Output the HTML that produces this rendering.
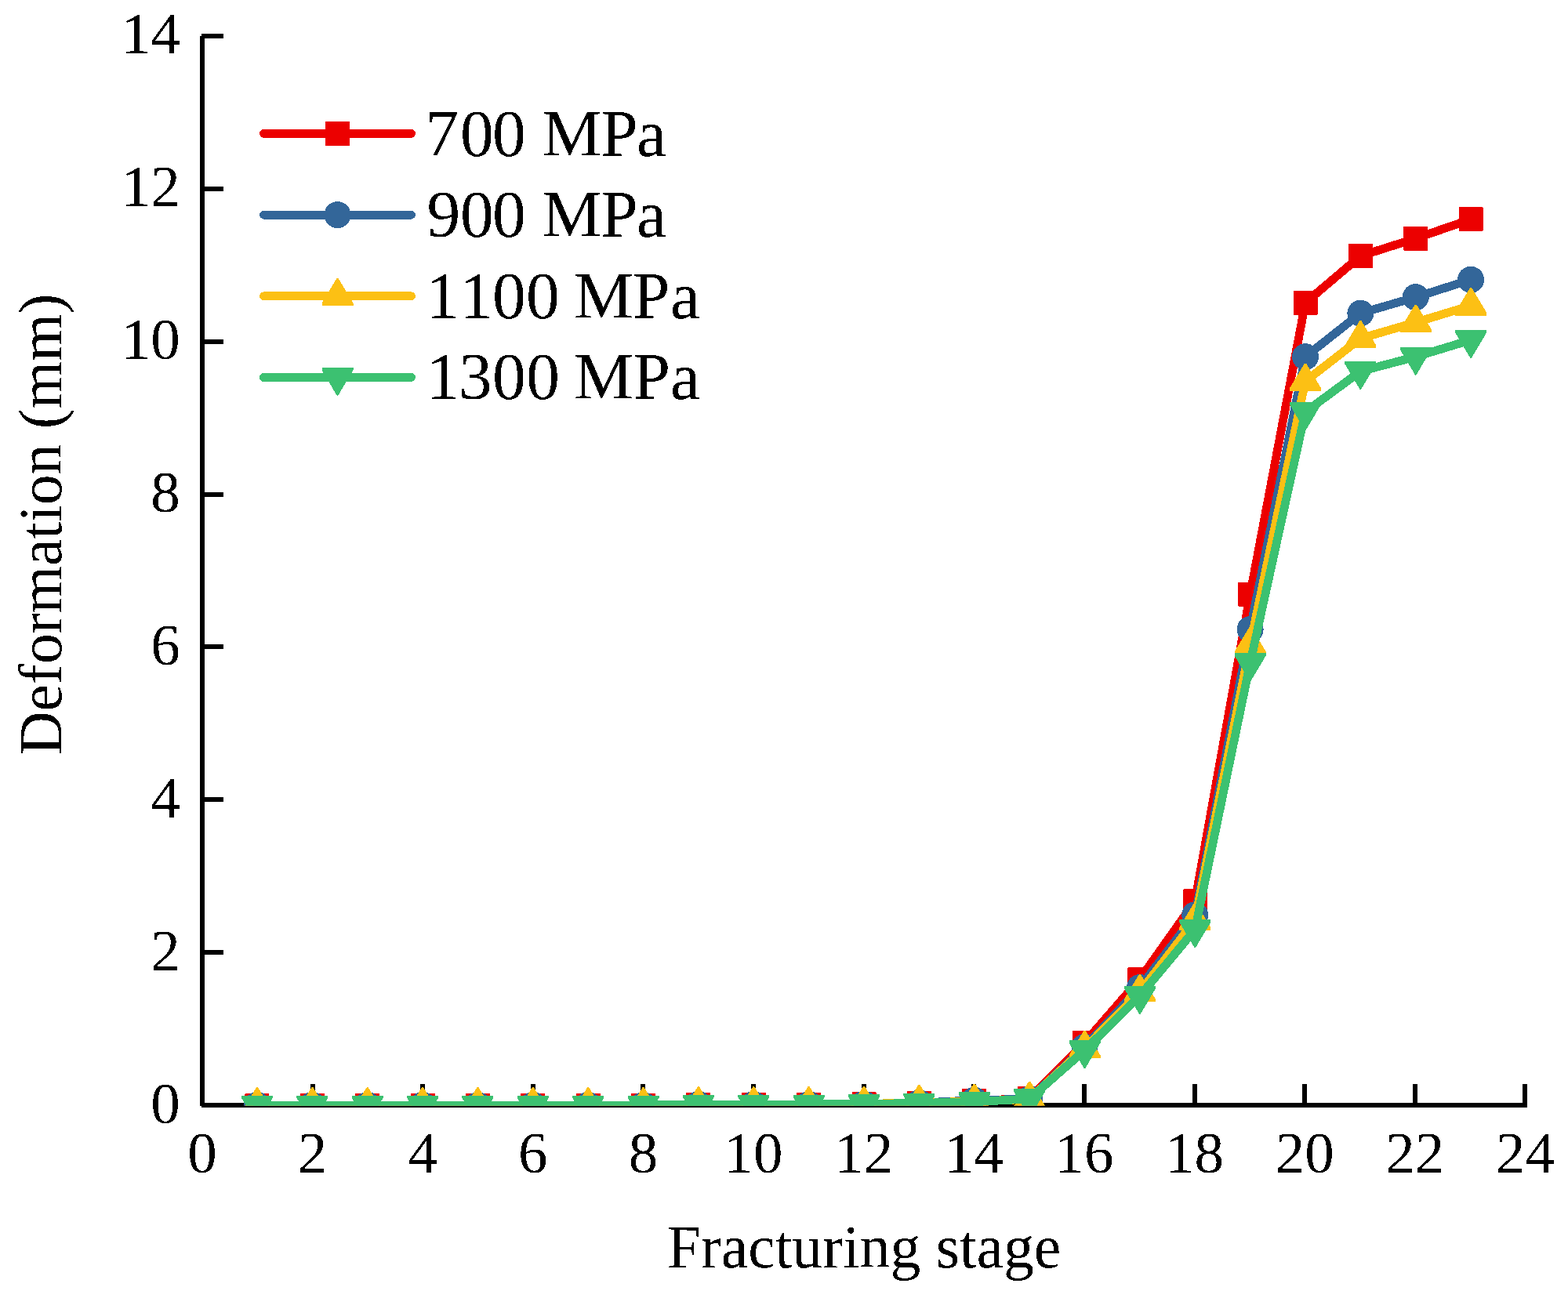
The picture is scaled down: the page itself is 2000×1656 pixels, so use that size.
<!DOCTYPE html>
<html><head><meta charset="utf-8"><title>Deformation vs Fracturing stage</title>
<style>
html,body{margin:0;padding:0;background:#fff;}
svg{display:block;}
.ce line,.ce polyline,.ce polygon,.ce rect,.ce circle{shape-rendering:crispEdges;}
text{filter:url(#bin);font-family:"Liberation Serif","Times New Roman",serif;fill:#000;}
.tk{font-size:75px;}
.lg{font-size:85.5px;}
.ti{font-size:77.7px;}
</style></head><body>
<svg class="ce" width="2000" height="1656" viewBox="0 0 2000 1656">
<defs><filter id="bin" x="-5%" y="-5%" width="110%" height="110%" color-interpolation-filters="sRGB"><feComponentTransfer><feFuncA type="discrete" tableValues="0 1"/></feComponentTransfer></filter><clipPath id="pa"><rect x="0" y="0" width="2000" height="1410.75"/></clipPath></defs>
<rect width="2000" height="1656" fill="#fff"/>
<rect x="255" y="46" width="6" height="1365" fill="#000"/>
<rect x="257" y="1407" width="1691" height="6" fill="#000"/>
<line x1="257" y1="1410.00" x2="285" y2="1410.00" stroke="#000" stroke-width="6"/>
<text x="229.8" y="1432.50" text-anchor="end" class="tk">0</text>
<line x1="257" y1="1215.14" x2="285" y2="1215.14" stroke="#000" stroke-width="6"/>
<text x="229.8" y="1237.64" text-anchor="end" class="tk">2</text>
<line x1="257" y1="1020.28" x2="285" y2="1020.28" stroke="#000" stroke-width="6"/>
<text x="229.8" y="1042.78" text-anchor="end" class="tk">4</text>
<line x1="257" y1="825.42" x2="285" y2="825.42" stroke="#000" stroke-width="6"/>
<text x="229.8" y="847.92" text-anchor="end" class="tk">6</text>
<line x1="257" y1="630.56" x2="285" y2="630.56" stroke="#000" stroke-width="6"/>
<text x="229.8" y="653.06" text-anchor="end" class="tk">8</text>
<line x1="257" y1="435.70" x2="285" y2="435.70" stroke="#000" stroke-width="6"/>
<text x="229.8" y="458.20" text-anchor="end" class="tk">10</text>
<line x1="257" y1="240.84" x2="285" y2="240.84" stroke="#000" stroke-width="6"/>
<text x="229.8" y="263.34" text-anchor="end" class="tk">12</text>
<line x1="257" y1="45.98" x2="285" y2="45.98" stroke="#000" stroke-width="6"/>
<text x="229.8" y="68.48" text-anchor="end" class="tk">14</text>
<line x1="258.00" y1="1383" x2="258.00" y2="1410.0" stroke="#000" stroke-width="6"/>
<text x="258.00" y="1495.7" text-anchor="middle" class="tk">0</text>
<line x1="398.62" y1="1383" x2="398.62" y2="1410.0" stroke="#000" stroke-width="6"/>
<text x="398.62" y="1495.7" text-anchor="middle" class="tk">2</text>
<line x1="539.24" y1="1383" x2="539.24" y2="1410.0" stroke="#000" stroke-width="6"/>
<text x="539.24" y="1495.7" text-anchor="middle" class="tk">4</text>
<line x1="679.86" y1="1383" x2="679.86" y2="1410.0" stroke="#000" stroke-width="6"/>
<text x="679.86" y="1495.7" text-anchor="middle" class="tk">6</text>
<line x1="820.48" y1="1383" x2="820.48" y2="1410.0" stroke="#000" stroke-width="6"/>
<text x="820.48" y="1495.7" text-anchor="middle" class="tk">8</text>
<line x1="961.10" y1="1383" x2="961.10" y2="1410.0" stroke="#000" stroke-width="6"/>
<text x="961.10" y="1495.7" text-anchor="middle" class="tk">10</text>
<line x1="1101.72" y1="1383" x2="1101.72" y2="1410.0" stroke="#000" stroke-width="6"/>
<text x="1101.72" y="1495.7" text-anchor="middle" class="tk">12</text>
<line x1="1242.34" y1="1383" x2="1242.34" y2="1410.0" stroke="#000" stroke-width="6"/>
<text x="1242.34" y="1495.7" text-anchor="middle" class="tk">14</text>
<line x1="1382.96" y1="1383" x2="1382.96" y2="1410.0" stroke="#000" stroke-width="6"/>
<text x="1382.96" y="1495.7" text-anchor="middle" class="tk">16</text>
<line x1="1523.58" y1="1383" x2="1523.58" y2="1410.0" stroke="#000" stroke-width="6"/>
<text x="1523.58" y="1495.7" text-anchor="middle" class="tk">18</text>
<line x1="1664.20" y1="1383" x2="1664.20" y2="1410.0" stroke="#000" stroke-width="6"/>
<text x="1664.20" y="1495.7" text-anchor="middle" class="tk">20</text>
<line x1="1804.82" y1="1383" x2="1804.82" y2="1410.0" stroke="#000" stroke-width="6"/>
<text x="1804.82" y="1495.7" text-anchor="middle" class="tk">22</text>
<line x1="1945.44" y1="1383" x2="1945.44" y2="1410.0" stroke="#000" stroke-width="6"/>
<text x="1945.44" y="1495.7" text-anchor="middle" class="tk">24</text>
<g clip-path="url(#pa)">
<polyline points="327.97,1410.00 398.34,1410.00 468.71,1410.00 539.08,1410.00 609.45,1410.00 679.82,1410.00 750.19,1410.00 820.56,1410.00 890.93,1409.03 961.30,1409.03 1031.67,1409.03 1102.04,1408.54 1172.41,1407.37 1242.78,1404.25 1313.15,1401.52 1383.52,1330.11 1453.89,1249.24 1524.26,1149.86 1594.63,758.19 1665.00,386.30 1735.37,326.58 1805.74,304.17 1876.11,279.81" fill="none" stroke="#EC0000" stroke-width="10.8" stroke-linejoin="round" stroke-linecap="round"/>
<rect x="312.47" y="1394.50" width="31" height="31" rx="1.2" fill="#EC0000"/>
<rect x="382.84" y="1394.50" width="31" height="31" rx="1.2" fill="#EC0000"/>
<rect x="453.21" y="1394.50" width="31" height="31" rx="1.2" fill="#EC0000"/>
<rect x="523.58" y="1394.50" width="31" height="31" rx="1.2" fill="#EC0000"/>
<rect x="593.95" y="1394.50" width="31" height="31" rx="1.2" fill="#EC0000"/>
<rect x="664.32" y="1394.50" width="31" height="31" rx="1.2" fill="#EC0000"/>
<rect x="734.69" y="1394.50" width="31" height="31" rx="1.2" fill="#EC0000"/>
<rect x="805.06" y="1394.50" width="31" height="31" rx="1.2" fill="#EC0000"/>
<rect x="875.43" y="1393.53" width="31" height="31" rx="1.2" fill="#EC0000"/>
<rect x="945.80" y="1393.53" width="31" height="31" rx="1.2" fill="#EC0000"/>
<rect x="1016.17" y="1393.53" width="31" height="31" rx="1.2" fill="#EC0000"/>
<rect x="1086.54" y="1393.04" width="31" height="31" rx="1.2" fill="#EC0000"/>
<rect x="1156.91" y="1391.87" width="31" height="31" rx="1.2" fill="#EC0000"/>
<rect x="1227.28" y="1388.75" width="31" height="31" rx="1.2" fill="#EC0000"/>
<rect x="1297.65" y="1386.02" width="31" height="31" rx="1.2" fill="#EC0000"/>
<rect x="1368.02" y="1314.61" width="31" height="31" rx="1.2" fill="#EC0000"/>
<rect x="1438.39" y="1233.74" width="31" height="31" rx="1.2" fill="#EC0000"/>
<rect x="1508.76" y="1134.36" width="31" height="31" rx="1.2" fill="#EC0000"/>
<rect x="1579.13" y="742.69" width="31" height="31" rx="1.2" fill="#EC0000"/>
<rect x="1649.50" y="370.80" width="31" height="31" rx="1.2" fill="#EC0000"/>
<rect x="1719.87" y="311.08" width="31" height="31" rx="1.2" fill="#EC0000"/>
<rect x="1790.24" y="288.67" width="31" height="31" rx="1.2" fill="#EC0000"/>
<rect x="1860.61" y="264.31" width="31" height="31" rx="1.2" fill="#EC0000"/>
<polyline points="327.97,1410.00 398.34,1410.00 468.71,1410.00 539.08,1410.00 609.45,1410.00 679.82,1410.00 750.19,1410.00 820.56,1410.00 890.93,1409.03 961.30,1409.03 1031.67,1409.03 1102.04,1408.54 1172.41,1407.08 1242.78,1403.76 1313.15,1402.21 1383.52,1335.95 1453.89,1259.96 1524.26,1167.40 1594.63,803.01 1665.00,455.19 1735.37,399.65 1805.74,379.19 1876.11,356.78" fill="none" stroke="#336699" stroke-width="10.8" stroke-linejoin="round" stroke-linecap="round"/>
<circle cx="327.97" cy="1410.00" r="17.0" fill="#336699"/>
<circle cx="398.34" cy="1410.00" r="17.0" fill="#336699"/>
<circle cx="468.71" cy="1410.00" r="17.0" fill="#336699"/>
<circle cx="539.08" cy="1410.00" r="17.0" fill="#336699"/>
<circle cx="609.45" cy="1410.00" r="17.0" fill="#336699"/>
<circle cx="679.82" cy="1410.00" r="17.0" fill="#336699"/>
<circle cx="750.19" cy="1410.00" r="17.0" fill="#336699"/>
<circle cx="820.56" cy="1410.00" r="17.0" fill="#336699"/>
<circle cx="890.93" cy="1409.03" r="17.0" fill="#336699"/>
<circle cx="961.30" cy="1409.03" r="17.0" fill="#336699"/>
<circle cx="1031.67" cy="1409.03" r="17.0" fill="#336699"/>
<circle cx="1102.04" cy="1408.54" r="17.0" fill="#336699"/>
<circle cx="1172.41" cy="1407.08" r="17.0" fill="#336699"/>
<circle cx="1242.78" cy="1403.76" r="17.0" fill="#336699"/>
<circle cx="1313.15" cy="1402.21" r="17.0" fill="#336699"/>
<circle cx="1383.52" cy="1335.95" r="17.0" fill="#336699"/>
<circle cx="1453.89" cy="1259.96" r="17.0" fill="#336699"/>
<circle cx="1524.26" cy="1167.40" r="17.0" fill="#336699"/>
<circle cx="1594.63" cy="803.01" r="17.0" fill="#336699"/>
<circle cx="1665.00" cy="455.19" r="17.0" fill="#336699"/>
<circle cx="1735.37" cy="399.65" r="17.0" fill="#336699"/>
<circle cx="1805.74" cy="379.19" r="17.0" fill="#336699"/>
<circle cx="1876.11" cy="356.78" r="17.0" fill="#336699"/>
<polyline points="327.97,1410.00 398.34,1410.00 468.71,1410.00 539.08,1410.00 609.45,1410.00 679.82,1410.00 750.19,1410.00 820.56,1410.00 890.93,1409.03 961.30,1409.03 1031.67,1409.03 1102.04,1408.54 1172.41,1406.69 1242.78,1405.32 1313.15,1402.30 1383.52,1337.41 1453.89,1265.80 1524.26,1174.22 1594.63,822.50 1665.00,486.36 1735.37,431.80 1805.74,411.34 1876.11,389.91" fill="none" stroke="#FCC014" stroke-width="10.8" stroke-linejoin="round" stroke-linecap="round"/>
<polygon points="326.97,1387.20 328.97,1387.20 347.97,1418.80 347.97,1422.60 307.97,1422.60 307.97,1418.80" fill="#FCC014"/>
<polygon points="397.34,1387.20 399.34,1387.20 418.34,1418.80 418.34,1422.60 378.34,1422.60 378.34,1418.80" fill="#FCC014"/>
<polygon points="467.71,1387.20 469.71,1387.20 488.71,1418.80 488.71,1422.60 448.71,1422.60 448.71,1418.80" fill="#FCC014"/>
<polygon points="538.08,1387.20 540.08,1387.20 559.08,1418.80 559.08,1422.60 519.08,1422.60 519.08,1418.80" fill="#FCC014"/>
<polygon points="608.45,1387.20 610.45,1387.20 629.45,1418.80 629.45,1422.60 589.45,1422.60 589.45,1418.80" fill="#FCC014"/>
<polygon points="678.82,1387.20 680.82,1387.20 699.82,1418.80 699.82,1422.60 659.82,1422.60 659.82,1418.80" fill="#FCC014"/>
<polygon points="749.19,1387.20 751.19,1387.20 770.19,1418.80 770.19,1422.60 730.19,1422.60 730.19,1418.80" fill="#FCC014"/>
<polygon points="819.56,1387.20 821.56,1387.20 840.56,1418.80 840.56,1422.60 800.56,1422.60 800.56,1418.80" fill="#FCC014"/>
<polygon points="889.93,1386.23 891.93,1386.23 910.93,1417.83 910.93,1421.63 870.93,1421.63 870.93,1417.83" fill="#FCC014"/>
<polygon points="960.30,1386.23 962.30,1386.23 981.30,1417.83 981.30,1421.63 941.30,1421.63 941.30,1417.83" fill="#FCC014"/>
<polygon points="1030.67,1386.23 1032.67,1386.23 1051.67,1417.83 1051.67,1421.63 1011.67,1421.63 1011.67,1417.83" fill="#FCC014"/>
<polygon points="1101.04,1385.74 1103.04,1385.74 1122.04,1417.34 1122.04,1421.14 1082.04,1421.14 1082.04,1417.34" fill="#FCC014"/>
<polygon points="1171.41,1383.89 1173.41,1383.89 1192.41,1415.49 1192.41,1419.29 1152.41,1419.29 1152.41,1415.49" fill="#FCC014"/>
<polygon points="1241.78,1382.52 1243.78,1382.52 1262.78,1414.12 1262.78,1417.92 1222.78,1417.92 1222.78,1414.12" fill="#FCC014"/>
<polygon points="1312.15,1379.50 1314.15,1379.50 1333.15,1411.10 1333.15,1414.90 1293.15,1414.90 1293.15,1411.10" fill="#FCC014"/>
<polygon points="1382.52,1314.61 1384.52,1314.61 1403.52,1346.21 1403.52,1350.01 1363.52,1350.01 1363.52,1346.21" fill="#FCC014"/>
<polygon points="1452.89,1243.00 1454.89,1243.00 1473.89,1274.60 1473.89,1278.40 1433.89,1278.40 1433.89,1274.60" fill="#FCC014"/>
<polygon points="1523.26,1151.42 1525.26,1151.42 1544.26,1183.02 1544.26,1186.82 1504.26,1186.82 1504.26,1183.02" fill="#FCC014"/>
<polygon points="1593.63,799.70 1595.63,799.70 1614.63,831.30 1614.63,835.10 1574.63,835.10 1574.63,831.30" fill="#FCC014"/>
<polygon points="1664.00,463.56 1666.00,463.56 1685.00,495.16 1685.00,498.96 1645.00,498.96 1645.00,495.16" fill="#FCC014"/>
<polygon points="1734.37,409.00 1736.37,409.00 1755.37,440.60 1755.37,444.40 1715.37,444.40 1715.37,440.60" fill="#FCC014"/>
<polygon points="1804.74,388.54 1806.74,388.54 1825.74,420.14 1825.74,423.94 1785.74,423.94 1785.74,420.14" fill="#FCC014"/>
<polygon points="1875.11,367.11 1877.11,367.11 1896.11,398.71 1896.11,402.51 1856.11,402.51 1856.11,398.71" fill="#FCC014"/>
<polyline points="327.97,1410.00 398.34,1410.00 468.71,1410.00 539.08,1410.00 609.45,1410.00 679.82,1410.00 750.19,1410.00 820.56,1410.00 890.93,1409.03 961.30,1409.03 1031.67,1409.03 1102.04,1408.54 1172.41,1407.37 1242.78,1405.71 1313.15,1401.91 1383.52,1339.85 1453.89,1270.68 1524.26,1185.91 1594.63,845.88 1665.00,525.53 1735.37,473.70 1805.74,455.19 1876.11,433.75" fill="none" stroke="#3CC171" stroke-width="10.8" stroke-linejoin="round" stroke-linecap="round"/>
<polygon points="307.97,1397.50 347.97,1397.50 347.97,1400.70 328.57,1433.40 327.37,1433.40 307.97,1400.70" fill="#3CC171"/>
<polygon points="378.34,1397.50 418.34,1397.50 418.34,1400.70 398.94,1433.40 397.74,1433.40 378.34,1400.70" fill="#3CC171"/>
<polygon points="448.71,1397.50 488.71,1397.50 488.71,1400.70 469.31,1433.40 468.11,1433.40 448.71,1400.70" fill="#3CC171"/>
<polygon points="519.08,1397.50 559.08,1397.50 559.08,1400.70 539.68,1433.40 538.48,1433.40 519.08,1400.70" fill="#3CC171"/>
<polygon points="589.45,1397.50 629.45,1397.50 629.45,1400.70 610.05,1433.40 608.85,1433.40 589.45,1400.70" fill="#3CC171"/>
<polygon points="659.82,1397.50 699.82,1397.50 699.82,1400.70 680.42,1433.40 679.22,1433.40 659.82,1400.70" fill="#3CC171"/>
<polygon points="730.19,1397.50 770.19,1397.50 770.19,1400.70 750.79,1433.40 749.59,1433.40 730.19,1400.70" fill="#3CC171"/>
<polygon points="800.56,1397.50 840.56,1397.50 840.56,1400.70 821.16,1433.40 819.96,1433.40 800.56,1400.70" fill="#3CC171"/>
<polygon points="870.93,1396.53 910.93,1396.53 910.93,1399.73 891.53,1432.43 890.33,1432.43 870.93,1399.73" fill="#3CC171"/>
<polygon points="941.30,1396.53 981.30,1396.53 981.30,1399.73 961.90,1432.43 960.70,1432.43 941.30,1399.73" fill="#3CC171"/>
<polygon points="1011.67,1396.53 1051.67,1396.53 1051.67,1399.73 1032.27,1432.43 1031.07,1432.43 1011.67,1399.73" fill="#3CC171"/>
<polygon points="1082.04,1396.04 1122.04,1396.04 1122.04,1399.24 1102.64,1431.94 1101.44,1431.94 1082.04,1399.24" fill="#3CC171"/>
<polygon points="1152.41,1394.87 1192.41,1394.87 1192.41,1398.07 1173.01,1430.77 1171.81,1430.77 1152.41,1398.07" fill="#3CC171"/>
<polygon points="1222.78,1393.21 1262.78,1393.21 1262.78,1396.41 1243.38,1429.11 1242.18,1429.11 1222.78,1396.41" fill="#3CC171"/>
<polygon points="1293.15,1389.41 1333.15,1389.41 1333.15,1392.61 1313.75,1425.31 1312.55,1425.31 1293.15,1392.61" fill="#3CC171"/>
<polygon points="1363.52,1327.35 1403.52,1327.35 1403.52,1330.55 1384.12,1363.25 1382.92,1363.25 1363.52,1330.55" fill="#3CC171"/>
<polygon points="1433.89,1258.18 1473.89,1258.18 1473.89,1261.38 1454.49,1294.08 1453.29,1294.08 1433.89,1261.38" fill="#3CC171"/>
<polygon points="1504.26,1173.41 1544.26,1173.41 1544.26,1176.61 1524.86,1209.31 1523.66,1209.31 1504.26,1176.61" fill="#3CC171"/>
<polygon points="1574.63,833.38 1614.63,833.38 1614.63,836.58 1595.23,869.28 1594.03,869.28 1574.63,836.58" fill="#3CC171"/>
<polygon points="1645.00,513.03 1685.00,513.03 1685.00,516.23 1665.60,548.93 1664.40,548.93 1645.00,516.23" fill="#3CC171"/>
<polygon points="1715.37,461.20 1755.37,461.20 1755.37,464.40 1735.97,497.10 1734.77,497.10 1715.37,464.40" fill="#3CC171"/>
<polygon points="1785.74,442.69 1825.74,442.69 1825.74,445.89 1806.34,478.59 1805.14,478.59 1785.74,445.89" fill="#3CC171"/>
<polygon points="1856.11,421.25 1896.11,421.25 1896.11,424.45 1876.71,457.15 1875.51,457.15 1856.11,424.45" fill="#3CC171"/>
</g>
<line x1="336.5" y1="170.4" x2="524.5" y2="170.4" stroke="#EC0000" stroke-width="10.8" stroke-linecap="round"/>
<rect x="415.00" y="154.90" width="31" height="31" rx="1.2" fill="#EC0000"/>
<text x="542.34 587.02 628.02 670.77 691.21 766.30 811.91" y="198.9" class="lg">700 MPa</text>
<line x1="336.5" y1="274.1" x2="524.5" y2="274.1" stroke="#336699" stroke-width="10.8" stroke-linecap="round"/>
<circle cx="430.50" cy="274.10" r="17.0" fill="#336699"/>
<text x="544.40 587.02 628.02 670.77 691.21 766.30 811.91" y="301.5" class="lg">900 MPa</text>
<line x1="336.5" y1="377.8" x2="524.5" y2="377.8" stroke="#FCC014" stroke-width="10.8" stroke-linecap="round"/>
<polygon points="429.50,355.00 431.50,355.00 450.50,386.60 450.50,390.40 410.50,390.40 410.50,386.60" fill="#FCC014"/>
<text x="543.34 586.34 628.12 671.02 713.77 731.91 807.10 854.91" y="405.6" class="lg">1100 MPa</text>
<line x1="336.5" y1="481.5" x2="524.5" y2="481.5" stroke="#3CC171" stroke-width="10.8" stroke-linecap="round"/>
<polygon points="410.50,469.00 450.50,469.00 450.50,472.20 431.10,504.90 429.90,504.90 410.50,472.20" fill="#3CC171"/>
<text x="543.54 585.05 628.12 671.23 713.98 732.01 807.40 854.91" y="508.5" class="lg">1300 MPa</text>
<text x="1102" y="1617" text-anchor="middle" class="ti">Fracturing stage</text>
<text transform="translate(77.9,669) rotate(-90)" x="0" y="0" text-anchor="middle" class="ti">Deformation (mm)</text>
</svg>
</body></html>
